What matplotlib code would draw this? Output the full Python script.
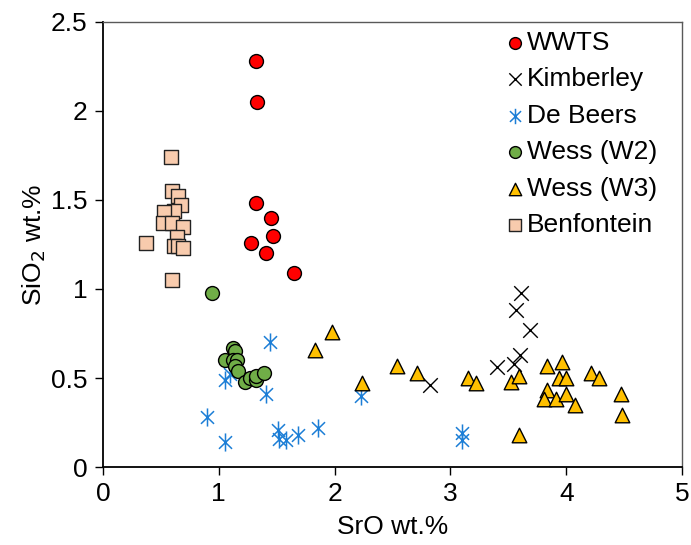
import matplotlib
matplotlib.use("Agg")
import matplotlib.pyplot as plt
from matplotlib.path import Path

plt.rcParams['font.family'] = ['Liberation Sans', 'DejaVu Sans']

# ---- data (SrO wt.%, SiO2 wt.%) ----
wwts_x = [1.32, 1.33, 1.32, 1.45, 1.47, 1.28, 1.41, 1.65]
wwts_y = [2.28, 2.05, 1.48, 1.40, 1.30, 1.26, 1.20, 1.09]

kimb_x = [3.61, 3.57, 3.69, 3.60, 3.55, 3.40, 2.82]
kimb_y = [0.98, 0.88, 0.77, 0.63, 0.58, 0.56, 0.46]

debeers_x = [1.44, 1.05, 1.10, 1.41, 0.90, 1.05, 1.51, 1.52, 1.58, 1.68, 1.86, 2.23, 3.10, 3.10]
debeers_y = [0.70, 0.49, 0.52, 0.41, 0.28, 0.14, 0.21, 0.16, 0.15, 0.18, 0.22, 0.40, 0.19, 0.15]

w2_x = [0.94, 1.12, 1.14, 1.05, 1.12, 1.16, 1.14, 1.17, 1.23, 1.27, 1.32, 1.32, 1.39]
w2_y = [0.98, 0.67, 0.65, 0.60, 0.60, 0.60, 0.57, 0.54, 0.48, 0.50, 0.49, 0.51, 0.53]

w3_x = [1.98, 1.83, 2.54, 2.71, 2.24, 3.15, 3.22, 3.52, 3.59, 3.59, 3.83, 3.96, 3.94,
        4.00, 3.83, 3.81, 3.91, 4.00, 4.08, 4.21, 4.28, 4.47, 4.48]
w3_y = [0.76, 0.66, 0.57, 0.53, 0.47, 0.50, 0.47, 0.48, 0.51, 0.18, 0.57, 0.59, 0.50,
        0.50, 0.43, 0.38, 0.38, 0.41, 0.35, 0.53, 0.50, 0.41, 0.29]

benf_x = [0.59, 0.37, 0.60, 0.60, 0.65, 0.67, 0.61, 0.53, 0.52, 0.60, 0.69, 0.64, 0.61, 0.65, 0.69]
benf_y = [1.74, 1.26, 1.05, 1.55, 1.52, 1.47, 1.44, 1.43, 1.37, 1.37, 1.35, 1.29, 1.24, 1.24, 1.23]

x_ticks = [0, 1, 2, 3, 4, 5]
y_ticks = [0, 0.5, 1, 1.5, 2, 2.5]
y_tick_labels = ['0', '0.5', '1', '1.5', '2', '2.5']

# asterisk marker (vertical + two diagonals)
ast_verts = [(0, -1), (0, 1), (-0.72, -0.7), (0.72, 0.7), (-0.72, 0.7), (0.72, -0.7)]
ast_codes = [Path.MOVETO, Path.LINETO] * 3
asterisk = Path(ast_verts, ast_codes)

FS = 19

fig = plt.figure(figsize=(6.91, 5.45), dpi=100)
ax = fig.add_axes([0.149, 0.143, 0.838, 0.817])

ax.scatter(wwts_x, wwts_y, s=100, marker='o', facecolor='#FF0000', edgecolor='black',
           linewidth=1, label='WWTS', zorder=3)
ax.scatter(kimb_x, kimb_y, s=110, marker='x', color='black', linewidth=1,
           label='Kimberley', zorder=3)
ax.scatter(debeers_x, debeers_y, s=170, marker=asterisk, color='#1C7ED6', linewidth=1.1,
           label='De Beers', zorder=3)
ax.scatter(w2_x, w2_y, s=100, marker='o', facecolor='#70AD47', edgecolor='black',
           linewidth=1, label='Wess (W2)', zorder=3)
ax.scatter(w3_x, w3_y, s=110, marker='^', facecolor='#FFC000', edgecolor='black',
           linewidth=1, label='Wess (W3)', zorder=3)
ax.scatter(benf_x, benf_y, s=110, marker='s', facecolor='#F8CBAD', edgecolor='#222222',
           linewidth=1, label='Benfontein', zorder=3)

ax.set_xlim(0, 5)
ax.set_ylim(0, 2.5)
ax.set_xticks(x_ticks)
ax.set_xticklabels([str(v) for v in x_ticks])
ax.set_yticks(y_ticks)
ax.set_yticklabels(y_tick_labels)
ax.tick_params(axis='both', direction='out', length=6, width=1, labelsize=FS, colors='black')
ax.tick_params(axis='x', pad=5)
ax.tick_params(axis='y', pad=5)

for s in ['left', 'bottom']:
    ax.spines[s].set_color('black')
    ax.spines[s].set_linewidth(1.3)
for s in ['top', 'right']:
    ax.spines[s].set_color('#595959')
    ax.spines[s].set_linewidth(1.0)

ax.set_xlabel('SrO wt.%', fontsize=FS, labelpad=6)
ax.set_ylabel('SiO$_2$ wt.%', fontsize=FS, labelpad=2)

leg = ax.legend(loc='upper right', frameon=False, fontsize=FS, markerscale=0.85,
                handletextpad=0.1, labelspacing=0.47, borderaxespad=0.2,
                handlelength=0.7, bbox_to_anchor=(0.985, 1.015))

fig.savefig('out.png', dpi=100)
